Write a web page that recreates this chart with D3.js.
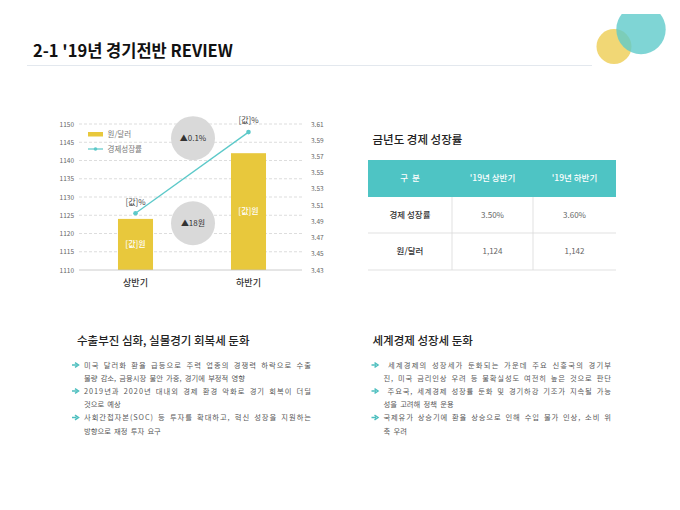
<!DOCTYPE html>
<html><head><meta charset="utf-8">
<script src="https://cdn.jsdelivr.net/npm/d3@7/dist/d3.min.js"></script>
<style>
body{margin:0;background:#fff;}
svg{display:block;font-family:"Noto Sans CJK KR","Noto Sans",sans-serif;}
.body-text{word-spacing:1.6px;}
</style></head>
<body>
<svg id="c" width="680" height="510"></svg>
<script>
// ---- data ----
const categories = ["상반기", "하반기"];
const wonDollar = [1124, 1142];
const growthRate = [3.50, 3.60];
const leftTicks = [1110, 1115, 1120, 1125, 1130, 1135, 1140, 1145, 1150];
const rightTicks = [3.43, 3.45, 3.47, 3.49, 3.51, 3.53, 3.55, 3.57, 3.59, 3.61];
const barLabels = ["[값]원", "[값]원"];
const pointLabels = ["[값]%", "[값]%"];
const diffLabels = ["▲0.1%", "▲18원"];
const legendLabels = ["원/달러", "경제성장률"];
const tableHeader = ["구  분", "'19년 상반기", "'19년 하반기"];
const tableRowLabels = ["경제 성장률", "원/달러"];
const tableGrowth = ["3.50%", "3.60%"];
const tableWon = ["1,124", "1,142"];
const pageTitle = "2-1 '19년 경기전반 REVIEW";
const tableTitle = "금년도 경제 성장률";
const leftHeading = "수출부진 심화, 실물경기 회복세 둔화";
const rightHeading = "세계경제 성장세 둔화";
const leftBullets = [
  ["미국 달러화 환율 급등으로 주력 업종의 경쟁력 하락으로 수출", "물량 감소, 금융시장 불안 가중, 경기에 부정적 영향"],
  ["2019년과 2020년 대내외 경제 환경 악화로 경기 회복이 더딜", "것으로 예상"],
  ["사회간접자본(SOC) 등 투자를 확대하고, 혁신 성장을 지원하는", "방향으로 재정 투자 요구"]
];
const rightBullets = [
  [" 세계경제의 성장세가 둔화되는 가운데 주요 신흥국의 경기부", "진, 미국 금리인상 우려 등 불확실성도 여전히 높은 것으로 판단"],
  [" 주요국, 세계경제 성장률 둔화 및 경기하강 기조가 지속될 가능", "성을 고려해 정책 운용"],
  ["국제유가 상승기에 환율 상승으로 인해 수입 물가 인상, 소비 위", "축 우려"]
];

const svg = d3.select("#c");
const YEL = "#e8c83c", TEAL = "#5cc9c9";

// ---- header decoration ----
const defs = svg.append("defs");
defs.append("clipPath").attr("id","topclip").append("rect").attr("x",0).attr("y",14).attr("width",680).attr("height",500);
const deco = svg.append("g").attr("clip-path","url(#topclip)");
deco.append("circle").attr("cx",614).attr("cy",46.5).attr("r",17.5).attr("fill","#f0d56e").attr("opacity",0.95);
deco.append("circle").attr("cx",641).attr("cy",29.5).attr("r",24.7).attr("fill","#5fcbcb").attr("opacity",0.8);

svg.append("text").attr("x",33).attr("y",57).attr("font-size",16.5).attr("font-weight","bold")
  .attr("fill","#111").text(pageTitle);
svg.append("line").attr("x1",27).attr("x2",592).attr("y1",65.5).attr("y2",65.5)
  .attr("stroke","#e3e8ee").attr("stroke-width",1);

// ---- chart ----
const x = d3.scaleBand().domain(categories).range([79, 305]).paddingInner(0.69).paddingOuter(0.345);
const yL = d3.scaleLinear().domain([1110, 1150]).range([270, 124]);
const yR = d3.scaleLinear().domain([3.43, 3.61]).range([270, 124]);
const cx = d => x(d) + x.bandwidth()/2;

const g = svg.append("g");
g.selectAll(".grid").data(leftTicks.slice(1)).join("line")
  .attr("x1",79).attr("x2",302).attr("y1",d=>yL(d)).attr("y2",d=>yL(d))
  .attr("stroke","#d4d4d4").attr("stroke-width",0.8).attr("stroke-dasharray","3,2");

const axL = g.append("g").attr("transform","translate(74,0)")
  .call(d3.axisLeft(yL).tickValues(leftTicks).tickSize(0).tickPadding(0).tickFormat(d3.format("d")));
axL.select(".domain").remove();
axL.selectAll("text").attr("font-size",6.5).attr("fill","#666").attr("font-family","'Noto Sans CJK KR',sans-serif");
const axR = g.append("g").attr("transform","translate(311,0)")
  .call(d3.axisRight(yR).tickValues(rightTicks).tickSize(0).tickPadding(0).tickFormat(d3.format(".2f")));
axR.select(".domain").remove();
axR.selectAll("text").attr("font-size",6.5).attr("fill","#666").attr("font-family","'Noto Sans CJK KR',sans-serif");

g.selectAll(".bar").data(categories).join("rect")
  .attr("x",d=>x(d)).attr("width",x.bandwidth())
  .attr("y",(d,i)=>yL(wonDollar[i])).attr("height",(d,i)=>yL(1110)-yL(wonDollar[i]))
  .attr("fill",YEL);
g.append("line").attr("x1",79).attr("x2",302).attr("y1",270).attr("y2",270).attr("stroke","#bfbfbf").attr("stroke-width",0.8);

g.selectAll(".bl").data(categories).join("text")
  .attr("x",d=>cx(d)).attr("y",(d,i)=>(yL(wonDollar[i])+270)/2).attr("dy","0.35em")
  .attr("text-anchor","middle").attr("font-size",8).attr("font-weight",500).attr("fill","#fff")
  .text((d,i)=>barLabels[i]);

const line = d3.line().x((d,i)=>cx(categories[i])).y(d=>yR(d));
g.append("path").datum(growthRate).attr("d",line).attr("fill","none").attr("stroke",TEAL).attr("stroke-width",1.3);
g.selectAll(".pt").data(growthRate).join("circle")
  .attr("cx",(d,i)=>cx(categories[i])).attr("cy",d=>yR(d)).attr("r",2.3).attr("fill",TEAL);
g.selectAll(".pl").data(growthRate).join("text")
  .attr("x",(d,i)=>cx(categories[i])).attr("y",d=>yR(d)-11.5).attr("dy","0.35em")
  .attr("text-anchor","middle").attr("font-size",8).attr("fill","#444")
  .text((d,i)=>pointLabels[i]);

g.selectAll(".cat").data(categories).join("text")
  .attr("x",d=>cx(d)).attr("y",283).attr("dy","0.35em").attr("text-anchor","middle")
  .attr("font-size",9).attr("font-weight",500).attr("fill","#333").text(d=>d);

const midX = (cx(categories[0]) + cx(categories[1]))/2 + 1;
const diffY = [yR(3.5925), yL(1122.8)];
diffLabels.forEach((t,i)=>{
  g.append("circle").attr("cx",midX).attr("cy",diffY[i]).attr("r",22).attr("fill","#d9d9d9");
  g.append("text").attr("x",midX).attr("y",diffY[i]).attr("dy","0.35em").attr("text-anchor","middle")
    .attr("font-size",8).attr("fill","#333").text(t);
});

g.append("rect").attr("x",88).attr("y",132).attr("width",15).attr("height",4.5).attr("fill",YEL);
g.append("text").attr("x",107.5).attr("y",134.3).attr("dy","0.35em").attr("font-size",7.5).attr("fill","#777").text(legendLabels[0]);
g.append("line").attr("x1",88).attr("x2",103).attr("y1",149).attr("y2",149).attr("stroke",TEAL).attr("stroke-width",1.2);
g.append("circle").attr("cx",95.5).attr("cy",149).attr("r",1.8).attr("fill",TEAL);
g.append("text").attr("x",107.5).attr("y",149.3).attr("dy","0.35em").attr("font-size",7.5).attr("fill","#777").text(legendLabels[1]);

// ---- table ----
svg.append("text").attr("x",372.5).attr("y",140).attr("dy","0.35em").attr("font-size",11.5).attr("font-weight",500)
  .attr("fill","#222").text(tableTitle);
const colX = [368, 452, 533, 616];
const rowY = [160, 197, 233, 270];
const colC = i => (colX[i]+colX[i+1])/2;
const rowC = i => (rowY[i]+rowY[i+1])/2;
svg.append("rect").attr("x",colX[0]).attr("y",rowY[0]).attr("width",colX[3]-colX[0]).attr("height",rowY[1]-rowY[0]).attr("fill","#4ec4c4");
tableHeader.forEach((t,i)=>{
  svg.append("text").attr("x",colC(i)).attr("y",rowC(0)).attr("dy","0.35em").attr("text-anchor","middle")
    .attr("font-size",8.5).attr("font-weight",500).attr("fill","#fff").attr("xml:space","preserve").text(t);
});
[2,3].forEach(r=>svg.append("line").attr("x1",colX[0]).attr("x2",colX[3]).attr("y1",rowY[r]).attr("y2",rowY[r]).attr("stroke","#d9d9d9").attr("stroke-width",0.8));
[1,2].forEach(c=>svg.append("line").attr("x1",colX[c]).attr("x2",colX[c]).attr("y1",rowY[1]).attr("y2",rowY[3]).attr("stroke","#d9d9d9").attr("stroke-width",0.8));
const tableVals = [tableGrowth, tableWon];
tableRowLabels.forEach((lab,r)=>{
  svg.append("text").attr("x",colC(0)).attr("y",rowC(r+1)).attr("dy","0.35em").attr("text-anchor","middle")
    .attr("font-size",8.5).attr("font-weight",500).attr("fill","#333").text(lab);
  tableVals[r].forEach((v,c)=>{
    svg.append("text").attr("x",colC(c+1)).attr("y",rowC(r+1)).attr("dy","0.35em").attr("text-anchor","middle")
      .attr("font-size",8).attr("fill","#666").text(v);
  });
});

// ---- text sections ----
function arrow(px, py){
  svg.append("path").attr("d",`M${px-3.5},${py} L${px+1},${py} M${px-0.5},${py-2.4} L${px+3},${py} L${px-0.5},${py+2.4}`)
    .attr("stroke","#4dbfbf").attr("stroke-width",1.5).attr("fill","none");
}
function section(hx, heading, bullets, ax, tx, endX){
  svg.append("text").attr("x",hx).attr("y",341).attr("dy","0.35em").attr("font-size",11.5).attr("font-weight",500)
    .attr("fill","#222").text(heading);
  const by = [365, 391, 417.5];
  bullets.forEach((lines,i)=>{
    arrow(ax, by[i]);
    lines.forEach((ln,j)=>{
      const t = svg.append("text").attr("class","body-text").attr("x", tx).attr("y",by[i]+j*13.5).attr("dy","0.35em")
        .attr("xml:space","preserve")
        .attr("font-size",7.3).attr("fill","#595959").text(ln);
      const w = t.node().getComputedTextLength();
      if (w > 0.75*(endX-tx)) t.attr("textLength", endX-tx).attr("lengthAdjust","spacing");
    });
  });
}
section(77, leftHeading, leftBullets, 75.5, 84, 311);
section(372.5, rightHeading, rightBullets, 375, 383.5, 611);
</script>
</body></html>
